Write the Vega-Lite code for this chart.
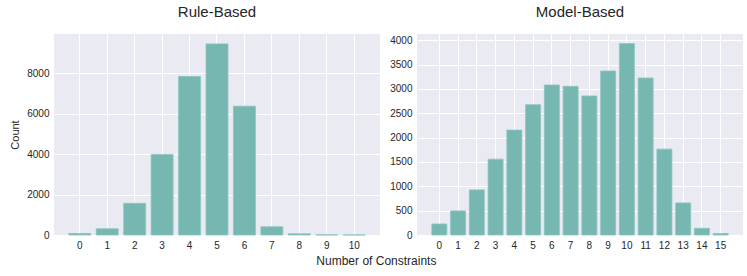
{
  "$schema": "https://vega.github.io/schema/vega-lite/v6.json",
  "background": "white",
  "padding": {"left": 9, "right": 8, "top": 5, "bottom": 5},
  "spacing": 9,
  "title": {"text": "Number of Constraints", "orient": "bottom", "anchor": "middle", "fontSize": 12, "font": "Liberation Sans", "fontWeight": "normal", "color": "#262626", "offset": 6},
  "config": {
    "view": {"fill": "#EAEAF2", "stroke": null},
    "axis": {"domain": false, "ticks": false, "gridColor": "white", "gridWidth": 1, "gridOpacity": 1, "labelFont": "Liberation Sans", "labelFontSize": 10, "labelColor": "#262626", "titleFont": "Liberation Sans", "titleFontSize": 11, "titleFontWeight": "normal", "titleColor": "#262626"},
    "title": {"font": "Liberation Sans", "fontSize": 15, "fontWeight": "normal", "color": "#262626", "offset": 14}
  },
  "datasets": {
    "rule": [
      {"n": "0", "count": 75}, {"n": "1", "count": 308}, {"n": "2", "count": 1567}, {"n": "3", "count": 3990},
      {"n": "4", "count": 7851}, {"n": "5", "count": 9463}, {"n": "6", "count": 6378}, {"n": "7", "count": 408},
      {"n": "8", "count": 60}, {"n": "9", "count": 10}, {"n": "10", "count": 5}
    ],
    "model": [
      {"n": "0", "count": 226}, {"n": "1", "count": 494}, {"n": "2", "count": 926}, {"n": "3", "count": 1557},
      {"n": "4", "count": 2154}, {"n": "5", "count": 2675}, {"n": "6", "count": 3080}, {"n": "7", "count": 3052},
      {"n": "8", "count": 2854}, {"n": "9", "count": 3368}, {"n": "10", "count": 3930}, {"n": "11", "count": 3224},
      {"n": "12", "count": 1763}, {"n": "13", "count": 658}, {"n": "14", "count": 137}, {"n": "15", "count": 30}
    ]
  },
  "hconcat": [
    {
      "title": "Rule-Based",
      "width": 326,
      "height": 201,
      "data": {"name": "rule"},
      "mark": {"type": "bar", "color": "#76B7B2", "stroke": "#8CC4BF", "strokeWidth": 0.8},
      "encoding": {
        "x": {"field": "n", "type": "ordinal", "sort": null, "scale": {"paddingInner": 0.2, "paddingOuter": 0.54},
              "axis": {"title": null, "labelAngle": 0, "grid": true, "bandPosition": 0.5, "labelPadding": 5}},
        "y": {"field": "count", "type": "quantitative", "scale": {"domain": [0, 9954], "nice": false},
              "axis": {"title": "Count", "format": "d", "values": [0, 2000, 4000, 6000, 8000], "labelPadding": 5, "titlePadding": 6}}
      }
    },
    {
      "title": "Model-Based",
      "width": 326,
      "height": 201,
      "data": {"name": "model"},
      "mark": {"type": "bar", "color": "#76B7B2", "stroke": "#8CC4BF", "strokeWidth": 0.8},
      "encoding": {
        "x": {"field": "n", "type": "ordinal", "sort": null, "scale": {"paddingInner": 0.2, "paddingOuter": 0.79},
              "axis": {"title": null, "labelAngle": 0, "grid": true, "bandPosition": 0.5, "labelPadding": 5}},
        "y": {"field": "count", "type": "quantitative", "scale": {"domain": [0, 4127], "nice": false},
              "axis": {"title": null, "format": "d", "values": [0, 500, 1000, 1500, 2000, 2500, 3000, 3500, 4000], "labelPadding": 5}}
      }
    }
  ]
}
